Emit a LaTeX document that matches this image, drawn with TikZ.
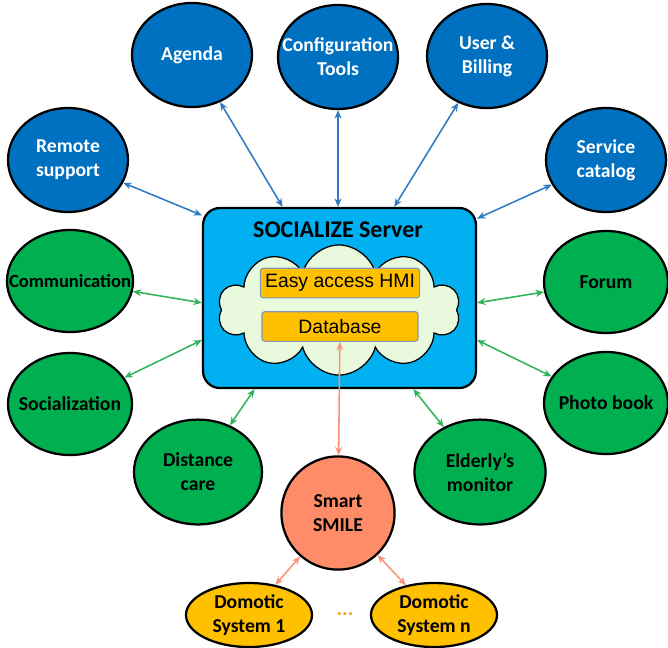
\documentclass[tikz,border=0pt]{standalone}
\usepackage{fontspec}
\setmainfont{Carlito}
\newfontfamily\boxfont{Liberation Sans}
\usetikzlibrary{shapes.geometric,shapes.symbols,arrows.meta}

\definecolor{bubbleblue}{HTML}{0070C0}
\definecolor{bubblegreen}{HTML}{00B050}
\definecolor{servercyan}{HTML}{00B0F0}
\definecolor{cloudgreen}{HTML}{E8F9DE}
\definecolor{gold}{HTML}{FFC000}
\definecolor{goldedge}{HTML}{8496B0}
\definecolor{salmon}{HTML}{FF8C69}
\definecolor{linkblue}{HTML}{2E7BC4}
\definecolor{linkgreen}{HTML}{30B35A}
\definecolor{linkorange}{HTML}{F7947A}
\definecolor{dotorange}{HTML}{F5A623}

\tikzset{
  bubble/.style={ellipse, draw=black, line width=1.6pt, inner xsep=-16pt, inner ysep=-8pt, align=center,
    font=\bfseries\fontsize{14}{17}\selectfont},
  bluebubble/.style={bubble, fill=bubbleblue, text=white, minimum width=3cm, minimum height=2.6cm},
  greenbubble/.style={bubble, fill=bubblegreen, minimum width=3.1cm, minimum height=2.55cm},
  domotic/.style={bubble, fill=gold, minimum width=3.15cm, minimum height=1.6cm},
  modulebox/.style={draw=goldedge, line width=0.8pt, fill=gold, rounded corners=2pt,
    minimum width=3.9cm, minimum height=0.74cm, font=\boxfont\fontsize{13.8}{15}\selectfont},
  link/.style={{Stealth[length=6pt,width=5pt]}-{Stealth[length=6pt,width=5pt]}, line width=1.1pt},
}

\begin{document}
\begin{tikzpicture}[x=0.025cm, y=-0.025cm]
    \useasboundingbox (0,0) rectangle (668,647);

    % Servidor central
    \node[draw=black, line width=1.6pt, fill=servercyan, rounded corners=12pt,
      minimum width=6.82cm, minimum height=4.5cm] (server) at (339.5,298) {};
    \node[font=\bfseries\fontsize{17}{19}\selectfont] (title) at (338,230) {SOCIALIZE Server};
    \node[cloud, cloud puffs=10, aspect=1.9, draw=black, line width=0.9pt, fill=cloudgreen,
      minimum width=6.05cm, minimum height=3.25cm] (cloud) at (339,310) {};
    \node[modulebox] (hmi) at (340,283) {Easy access HMI};
    \node[modulebox] (db) at (340,326.5) {Database};

    % Servicios (azul)
    \node[bluebubble] (remote) at (68,160) {Remote\\support};
    \node[bluebubble] (agenda) at (192,55) {Agenda};
    \node[bluebubble] (config) at (338,57) {Configuration\\Tools};
    \node[bluebubble] (user) at (487,56) {User \&\\Billing};
    \node[bluebubble] (catalog) at (606,160) {Service\\catalog};

    % Aplicaciones (verde)
    \node[greenbubble, minimum width=3.15cm, font=\bfseries\fontsize{13.2}{16}\selectfont] (comm) at (70,281) {Communication};
    \node[greenbubble] (social) at (70,404) {Socialization};
    \node[greenbubble, minimum width=3.2cm, minimum height=2.62cm] (distance) at (198,472) {Distance\\care};
    \node[greenbubble] (forum) at (606,282) {Forum};
    \node[greenbubble] (photo) at (606,403) {Photo book};
    \node[greenbubble, minimum width=3.28cm, minimum height=2.62cm] (elderly) at (480,472) {Elderly's\\monitor};

    % Pasarela y sistemas domoticos
    \node[bubble, circle, inner sep=-4pt, fill=salmon, minimum size=2.83cm] (smile) at (338,513) {Smart\\SMILE};
    \node[domotic] (dom1) at (249,615) {Domotic\\System 1};
    \node[domotic] (domn) at (434,615) {Domotic\\System n};
    \node[font=\bfseries\fontsize{15}{15}\selectfont, text=dotorange] (dots) at (345,614) {...};

    % Enlaces
    \draw[link, linkblue] (remote) -- (server.149);
    \draw[link, linkblue] (agenda) -- (server.122);
    \draw[link, linkblue] (config) -- (config |- server.north);
    \draw[link, linkblue] (user) -- (server.59);
    \draw[link, linkblue] (catalog) -- (server.30);
    \draw[link, linkgreen] (comm) -- (server.182);
    \draw[link, linkgreen] (social) -- (server.197);
    \draw[link, linkgreen] (distance) -- (server.227);
    \draw[link, linkgreen] (forum) -- (server.358);
    \draw[link, linkgreen] (photo) -- (server.343);
    \draw[link, linkgreen] (elderly) -- (server.309);
    \draw[link, linkorange] (db) -- (smile);
    \draw[link, linkorange] (smile) -- (dom1);
    \draw[link, linkorange] (smile) -- (domn);
\end{tikzpicture}
\end{document}
